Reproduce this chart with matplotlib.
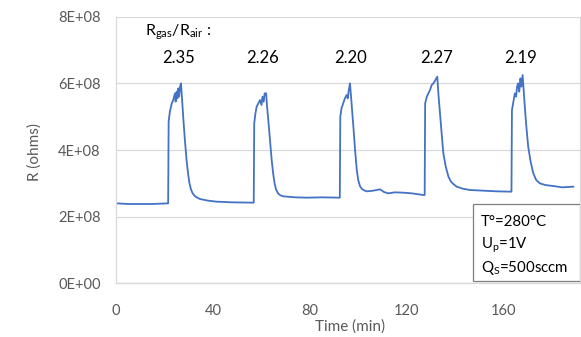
import matplotlib.pyplot as plt
from matplotlib.patches import Rectangle
import numpy as np

plt.rcParams['font.family'] = ['Lato', 'DejaVu Sans']
plt.rcParams['mathtext.fontset'] = 'custom'
plt.rcParams['mathtext.rm'] = 'Lato'
plt.rcParams['mathtext.it'] = 'Lato:italic'

# resistance trace (time in min, R in 1E+08 ohms)
time_min = [0, 5, 10, 15, 21.5,
            21.7, 22.2, 23.0, 23.6, 24.3, 24.6, 25.0, 25.3, 25.7, 26.0, 26.4, 26.8,
            27.3, 27.8, 28.4, 29.1, 29.7, 30.3, 30.9, 31.6, 32.5, 33.5, 34.6, 38.0, 41.5, 48.0, 55.3, 56.8,
            57.0, 57.5, 58.0, 58.7, 59.4, 60.0, 60.4, 60.9, 61.3, 61.9,
            62.3, 62.8, 63.5, 64.2, 64.8, 65.4, 66.0, 66.8, 67.8, 69.0, 74.0, 78.6, 85.0, 91.7, 92.3,
            92.5, 93.0, 93.7, 94.4, 95.1, 95.6, 96.0, 96.5,
            97.2, 97.9, 98.6, 99.3, 99.9, 100.6, 101.3, 102.3, 103.5, 106.1, 108.9, 110.5, 112.3, 115.0, 118.5, 122.0, 126.7, 127.3,
            127.5, 128.2, 129.5, 130.2, 130.9, 131.7, 132.5,
            133.0, 133.6, 134.3, 135.0, 136.0, 137.1, 138.0, 138.8, 140.5, 143.0, 146.0, 152.0, 157.0, 162.5, 163.1,
            163.3, 164.0, 164.5, 165.0, 165.4, 165.9, 166.3, 166.8, 167.2, 167.7,
            168.2, 168.7, 169.3, 170.0, 171.0, 172.1, 173.3, 174.8, 177.0, 180.3, 184.0, 188.6]
resistance = [2.40, 2.38, 2.38, 2.38, 2.40,
              4.85, 5.15, 5.40, 5.50, 5.70, 5.45, 5.75, 5.55, 5.85, 5.60, 5.90, 6.00,
              5.45, 4.90, 4.30, 3.70, 3.30, 3.00, 2.82, 2.70, 2.62, 2.57, 2.53, 2.48, 2.45, 2.43, 2.42, 2.42,
              4.80, 5.10, 5.30, 5.40, 5.50, 5.35, 5.60, 5.45, 5.70, 5.70,
              5.30, 4.90, 4.30, 3.70, 3.30, 3.00, 2.82, 2.70, 2.64, 2.61, 2.58, 2.57, 2.58, 2.57, 2.57,
              5.00, 5.25, 5.40, 5.55, 5.65, 5.55, 5.80, 6.00,
              5.35, 4.70, 4.00, 3.40, 3.10, 2.92, 2.84, 2.79, 2.76, 2.78, 2.82, 2.74, 2.70, 2.73, 2.72, 2.70, 2.65, 2.65,
              5.40, 5.60, 5.80, 5.95, 6.00, 6.10, 6.20,
              5.65, 5.10, 4.50, 3.90, 3.50, 3.20, 3.07, 3.00, 2.90, 2.84, 2.80, 2.78, 2.76, 2.75, 2.75,
              5.20, 5.50, 5.70, 5.60, 5.90, 6.00, 5.75, 6.15, 5.90, 6.25,
              5.70, 5.20, 4.65, 4.10, 3.65, 3.30, 3.10, 3.00, 2.95, 2.92, 2.88, 2.90]

peak_time = [25.6, 60.6, 96.9, 132.4, 167.0]
peak_ratio = ['2.35', '2.26', '2.20', '2.27', '2.19']

y_ticks = [0, 2e8, 4e8, 6e8, 8e8]
y_tick_labels = ['0E+00', '2E+08', '4E+08', '6E+08', '8E+08']
x_ticks = [0, 40, 80, 120, 160]

conditions = ['T°=280°C', r'U$_{\rm p}$=1V', r'Q$_{\rm S}$=500sccm']

grey = '#595959'
fig = plt.figure(figsize=(5.81, 3.37), dpi=100)
ax = fig.add_axes([0.1997, 0.1593, 0.7983, 0.7911])

ax.plot(time_min, np.array(resistance) * 1e8, color='#4472C4', lw=1.3)

ax.set_xlim(0, 191.3)
ax.set_ylim(0, 8e8)
ax.set_yticks(y_ticks)
ax.set_yticklabels(y_tick_labels)
ax.set_xticks(x_ticks)
ax.tick_params(axis='both', length=0, colors=grey, labelsize=10.5)
ax.tick_params(axis='x', pad=15)
ax.tick_params(axis='y', pad=11)
ax.grid(axis='y', color='#d9d9d9', lw=0.9)
ax.set_axisbelow(True)
ax.spines['top'].set_visible(False)
for side in ['left', 'bottom', 'right']:
    ax.spines[side].set_color('#d9d9d9')
    ax.spines[side].set_linewidth(0.9)

# ratio annotations above each peak
ax.text(25.6, 7.54e8, r'R$_{\rm gas}$/R$_{\rm air}$ :', ha='center', va='center', fontsize=11.5)
for t, r in zip(peak_time, peak_ratio):
    ax.text(t, 6.76e8, r, ha='center', va='center', fontsize=12)

# conditions box
ax.add_patch(Rectangle((0.769, 0.009), 0.231, 0.288, transform=ax.transAxes,
                       fill=True, facecolor='white', edgecolor='#7f7f7f', lw=0.9, zorder=3))
for i, line in enumerate(conditions):
    ax.text(0.786, 0.230 - i * 0.086, line, transform=ax.transAxes,
            ha='left', va='center', fontsize=10.8, zorder=4)

fig.text(0.060, 0.549, 'R (ohms)', rotation=90, ha='center', va='center', color=grey, fontsize=11)
fig.text(0.602, 0.030, 'Time (min)', ha='center', va='center', color=grey, fontsize=11)

fig.savefig('out.png', dpi=100)
